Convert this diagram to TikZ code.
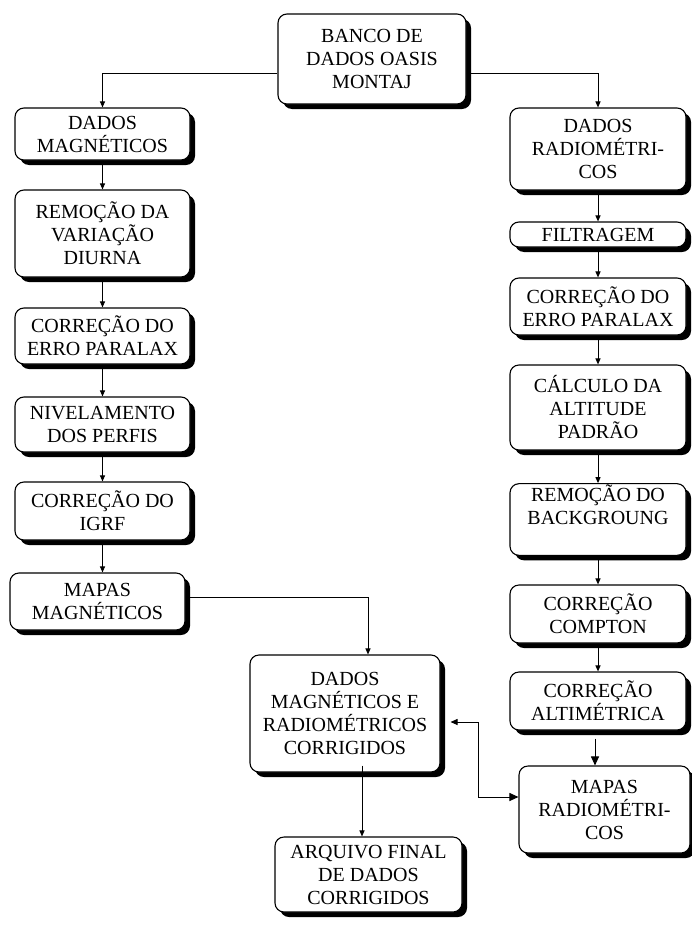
\documentclass[tikz,border=0pt]{standalone}
\usepackage{fontspec}
\setmainfont{Liberation Serif}
\usetikzlibrary{arrows.meta,shadows}
\begin{document}
\begin{tikzpicture}[x=1pt,y=-1pt,
  box/.style={draw, line width=1.1pt, rounded corners=9pt, fill=white,
    align=center, inner sep=1pt, font=\fontsize{20}{23}\selectfont,
    drop shadow={shadow xshift=5pt, shadow yshift=-5pt, fill=black, opacity=1}},
  arr/.style={-{Triangle[length=6pt,width=5pt]}, line width=1pt},
  bigarr/.style={-{Triangle[length=9pt,width=8pt]}, line width=1pt},
  dblarr/.style={{Triangle[length=7pt,width=6pt]}-{Triangle[length=9pt,width=8pt]}, line width=1pt}]
\useasboundingbox (0,0) rectangle (692,926);

% top
\node[box, minimum width=188pt, minimum height=90pt] (banco) at (372,59) {BANCO DE\\DADOS OASIS\\MONTAJ};

% magnetic branch
\node[box, minimum width=175pt, minimum height=52pt] (dmag) at (102.5,134) {DADOS\\MAGNÉTICOS};
\node[box, minimum width=175pt, minimum height=87pt] (diurna) at (102.5,233.5) {REMOÇÃO DA\\VARIAÇÃO\\DIURNA};
\node[box, minimum width=175pt, minimum height=56pt] (paralaxm) at (102.5,336) {CORREÇÃO DO\\ERRO PARALAX};
\node[box, minimum width=175pt, minimum height=55pt] (nivel) at (102.5,424.5) {NIVELAMENTO\\DOS PERFIS};
\node[box, minimum width=175pt, minimum height=58pt] (igrf) at (102.5,511) {CORREÇÃO DO\\IGRF};
\node[box, minimum width=175pt, minimum height=57pt] (mapmag) at (97.5,601.5) {MAPAS\\MAGNÉTICOS};

% radiometric branch
\node[box, minimum width=176pt, minimum height=82pt] (drad) at (598,149) {DADOS\\RADIOMÉTRI-\\COS};
\node[box, minimum width=176pt, minimum height=25pt] (filtro) at (598,234.5) {FILTRAGEM};
\node[box, minimum width=176pt, minimum height=57pt] (paralaxr) at (598,306.5) {CORREÇÃO DO\\ERRO PARALAX};
\node[box, minimum width=176pt, minimum height=85pt] (altpad) at (598,407.5) {CÁLCULO DA\\ALTITUDE\\PADRÃO};
\node[box, minimum width=176pt, minimum height=71pt] (backg) at (598,519.5) {REMOÇÃO DO\\BACKGROUNG\\\strut};
\node[box, minimum width=176pt, minimum height=58pt] (compton) at (598,614) {CORREÇÃO\\COMPTON};
\node[box, minimum width=176pt, minimum height=58pt] (altim) at (598,701) {CORREÇÃO\\ALTIMÉTRICA};
\node[box, minimum width=171pt, minimum height=87pt] (maprad) at (604.5,809.5) {MAPAS\\RADIOMÉTRI-\\COS};

% merged data
\node[box, minimum width=190pt, minimum height=117pt] (corr) at (345,713.5) {DADOS\\MAGNÉTICOS E\\RADIOMÉTRICOS\\CORRIGIDOS};
\node[box, minimum width=187pt, minimum height=75pt] (arquivo) at (368.5,874.5) {ARQUIVO FINAL\\DE DADOS\\CORRIGIDOS};

% connectors
\draw[arr] ([yshift=-14pt]banco.west) -| (dmag.north);
\draw[arr] ([yshift=-14pt]banco.east) -| (drad.north);

\draw[arr] (dmag) -- (diurna);
\draw[arr] (diurna) -- (paralaxm);
\draw[arr] (paralaxm) -- (nivel);
\draw[arr] (nivel) -- (igrf);
\draw[arr] (igrf.south) -- (igrf.south |- mapmag.north);
\draw[arr] ([yshift=4pt]mapmag.east) -| ([xshift=23pt]corr.north);

\draw[arr] (drad) -- (filtro);
\draw[arr] (filtro) -- (paralaxr);
\draw[arr] (paralaxr) -- (altpad);
\draw[arr] (altpad) -- (backg);
\draw[arr] (backg) -- (compton);
\draw[arr] (compton) -- (altim);
\draw[bigarr] ([xshift=-3pt,yshift=-8pt]altim.south) -- ([xshift=-9.5pt]maprad.north);

\draw[dblarr] ([xshift=10pt,yshift=-8.5pt]corr.east) -| ++(28,75) -- ([yshift=12.5pt]maprad.west);
\draw[arr] ([xshift=17pt,yshift=7pt]corr.south) -- ([xshift=-6.5pt]arquivo.north);
\end{tikzpicture}
\end{document}
